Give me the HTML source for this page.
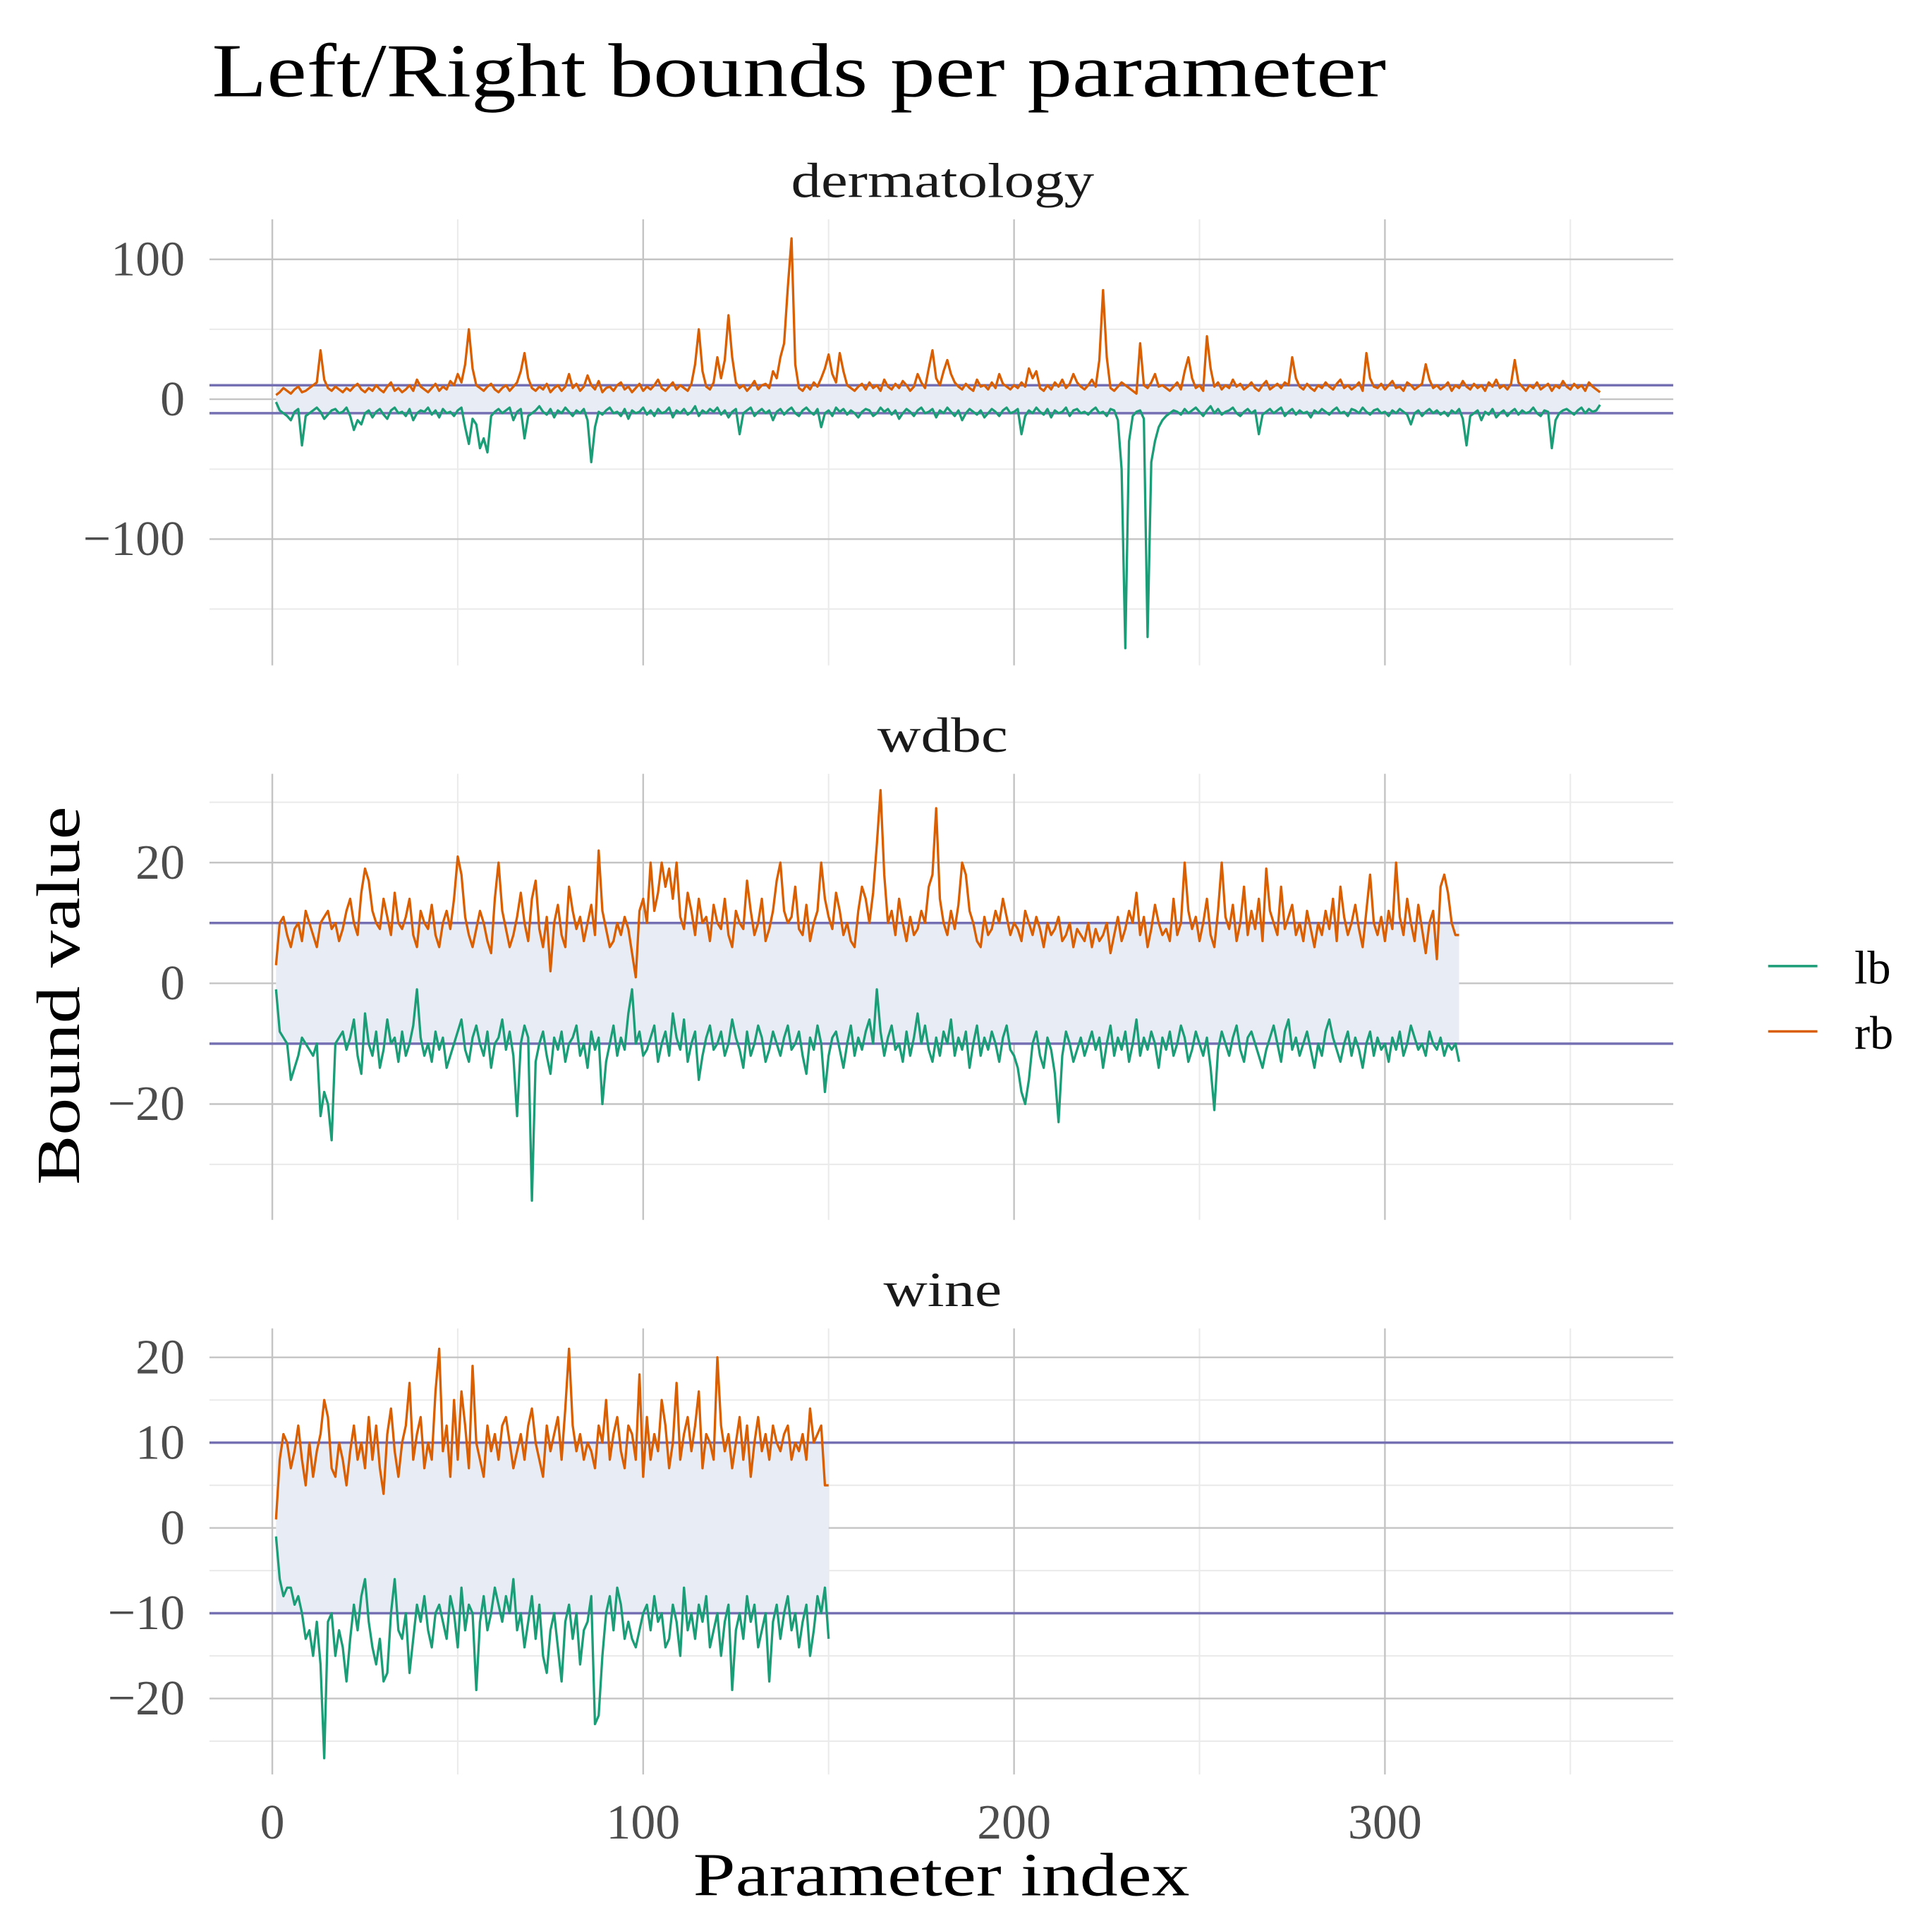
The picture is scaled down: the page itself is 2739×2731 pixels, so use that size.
<!DOCTYPE html>
<html><head><meta charset="utf-8">
<style>
html,body{margin:0;padding:0;background:#fff;}
svg{display:block;}
text{font-family:"Liberation Serif",serif;}
</style></head>
<body>
<svg id="chart" width="2739" height="2731" viewBox="0 0 1568 1563" preserveAspectRatio="none" xmlns="http://www.w3.org/2000/svg">
<rect width="1568" height="1563" fill="#fff"/>
<text x="172" y="78" font-size="62" textLength="953" lengthAdjust="spacingAndGlyphs" fill="#000">Left/Right bounds per parameter</text>
<text x="764" y="1538" font-size="50" text-anchor="middle" textLength="403" lengthAdjust="spacingAndGlyphs" fill="#000">Parameter index</text>
<text transform="translate(64,808) rotate(-90)" font-size="50" text-anchor="middle" textLength="307" lengthAdjust="spacingAndGlyphs" fill="#000">Bound value</text>
<g>
<line x1="1435" x2="1475" y1="784" y2="784" stroke="#1b9e77" stroke-width="2"/>
<text x="1505" y="798" font-size="38">lb</text>
<line x1="1435" x2="1475" y1="837" y2="837" stroke="#d95f02" stroke-width="2"/>
<text x="1505" y="851" font-size="38">rb</text>
</g>
<g id="panels"></g>
</svg>
<script>
const dermRb=[3,5,8,6,4,7,9,5,6,8,10,12,35,14,8,6,9,7,5,8,
6,9,11,7,5,8,6,10,7,5,9,12,6,8,5,7,10,6,14,9,
7,5,8,11,6,9,7,13,10,18,12,25,50,22,10,8,6,9,11,7,
5,8,10,6,9,12,20,33,15,8,6,9,7,11,5,8,10,6,9,18,
8,11,6,9,17,10,7,13,5,8,9,6,10,12,7,9,5,8,11,6,
9,7,10,14,8,6,9,12,7,10,8,6,11,25,50,20,9,7,12,30,
15,28,60,30,12,8,10,6,9,13,7,10,11,8,20,15,30,40,80,115,
25,8,6,10,7,12,9,15,22,32,18,12,33,20,10,8,6,9,11,7,
12,8,10,6,14,9,7,11,8,13,10,6,9,18,12,8,22,35,15,10,
20,28,18,12,9,7,11,8,6,14,9,10,7,12,8,18,11,9,7,10,
8,12,9,22,15,20,8,6,10,7,12,9,14,8,11,18,12,9,7,10,
14,9,28,78,30,8,6,9,12,10,8,6,4,40,10,8,12,18,9,10,
8,6,9,12,7,20,30,15,8,10,6,45,22,9,12,7,10,8,14,9,
11,7,9,12,8,6,10,13,7,9,11,8,12,10,30,15,9,7,11,8,
6,10,8,12,9,7,11,14,8,10,7,9,12,6,33,15,9,8,11,7,
10,13,8,9,6,12,10,7,9,11,25,14,8,10,7,9,12,6,10,8,
13,9,7,11,8,10,6,12,9,14,8,10,7,11,28,12,9,6,10,8,
12,7,9,11,6,10,8,13,9,7,11,8,10,6,12,9,7,5];
const dermLb=[-2,-8,-10,-12,-15,-9,-7,-33,-12,-10,-8,-6,-9,-14,-11,-8,-7,-10,-9,-6,
-12,-22,-15,-18,-10,-8,-13,-9,-7,-11,-14,-8,-6,-10,-9,-12,-7,-15,-10,-8,
-9,-6,-11,-8,-13,-7,-10,-9,-12,-8,-6,-20,-32,-14,-18,-35,-28,-38,-12,-9,
-7,-10,-8,-6,-15,-9,-7,-28,-12,-10,-8,-5,-9,-11,-7,-13,-8,-10,-6,-9,
-12,-8,-10,-7,-15,-45,-20,-9,-11,-8,-6,-10,-9,-12,-7,-14,-8,-10,-9,-6,
-11,-8,-12,-7,-10,-9,-6,-13,-8,-10,-7,-11,-9,-5,-12,-8,-10,-7,-9,-6,
-11,-8,-13,-9,-7,-25,-10,-8,-6,-12,-9,-7,-10,-8,-15,-9,-7,-11,-8,-6,
-10,-12,-8,-6,-9,-11,-7,-20,-10,-8,-12,-6,-9,-7,-11,-8,-10,-13,-9,-7,
-8,-12,-10,-6,-9,-7,-11,-8,-14,-10,-7,-9,-12,-8,-6,-10,-9,-7,-13,-8,
-10,-6,-9,-12,-8,-15,-10,-7,-9,-11,-8,-13,-10,-7,-9,-12,-8,-6,-10,-9,
-7,-25,-12,-8,-10,-6,-9,-11,-7,-13,-8,-10,-9,-6,-12,-8,-7,-10,-9,-11,
-8,-6,-10,-9,-12,-7,-8,-15,-50,-178,-30,-12,-9,-8,-14,-170,-45,-30,-20,-15,
-12,-10,-8,-9,-11,-7,-10,-8,-6,-9,-12,-8,-5,-10,-7,-11,-9,-8,-6,-10,
-12,-9,-7,-10,-8,-25,-11,-9,-7,-10,-8,-6,-12,-9,-7,-11,-8,-10,-9,-13,
-8,-10,-7,-9,-11,-8,-6,-10,-9,-12,-7,-8,-10,-6,-9,-11,-8,-7,-10,-9,
-12,-8,-10,-7,-9,-11,-18,-10,-8,-12,-9,-7,-10,-8,-11,-9,-12,-8,-10,-7,
-14,-33,-12,-10,-8,-15,-9,-11,-7,-13,-10,-8,-12,-9,-7,-11,-8,-10,-9,-6,
-10,-12,-8,-9,-35,-15,-10,-8,-7,-9,-11,-8,-6,-10,-7,-9,-8,-4];
const wdbcRb=[3,10,11,8,6,9,10,7,12,10,8,6,10,11,12,9,10,7,9,12,
14,10,8,15,19,17,12,10,9,14,11,8,15,10,9,11,14,8,6,12,
10,9,13,8,6,10,12,9,14,21,18,11,8,6,9,12,10,7,5,14,
20,12,9,6,8,11,15,10,7,14,17,9,6,11,2,10,13,8,6,16,
12,9,11,7,10,13,8,22,12,9,6,7,10,8,11,9,5,1,12,14,
10,20,12,15,20,16,19,14,20,11,9,15,12,8,14,10,11,7,13,10,
9,14,8,6,12,10,9,17,12,8,10,14,7,9,12,17,20,12,10,11,
16,9,8,13,7,10,12,20,14,11,9,15,12,8,10,7,6,12,16,14,
10,15,23,32,18,10,12,8,14,10,7,11,8,9,12,10,16,18,29,14,
10,8,12,9,13,20,18,12,10,7,6,11,8,9,12,10,14,11,8,10,
9,7,12,10,8,11,9,6,10,8,9,11,7,8,10,6,9,8,7,10,
6,9,7,8,10,5,8,11,7,9,12,10,15,8,11,6,9,13,10,8,
9,7,14,8,10,20,12,9,11,7,10,14,8,6,12,20,11,9,13,7,
10,16,8,12,9,14,7,19,12,10,8,16,9,11,13,8,10,7,12,9,
6,10,8,12,9,14,7,16,11,8,10,13,9,6,12,18,10,8,11,7,
12,9,20,11,8,14,10,7,13,9,5,10,12,4,16,18,15,10,8,8];
const wdbcLb=[-1,-8,-9,-10,-16,-14,-12,-9,-10,-11,-12,-10,-22,-18,-20,-26,-10,-9,-8,-11,
-9,-6,-12,-15,-5,-10,-12,-8,-14,-11,-6,-10,-9,-13,-8,-12,-10,-7,-1,-9,
-12,-10,-13,-8,-11,-9,-14,-12,-10,-8,-6,-11,-13,-9,-7,-10,-12,-8,-14,-10,
-9,-6,-11,-8,-12,-22,-10,-7,-9,-36,-13,-10,-8,-12,-15,-9,-11,-8,-13,-10,
-9,-7,-12,-10,-14,-8,-11,-9,-20,-13,-10,-7,-12,-9,-11,-5,-1,-10,-8,-12,
-11,-9,-7,-13,-10,-8,-12,-5,-9,-11,-6,-13,-10,-8,-16,-12,-9,-7,-11,-10,
-8,-12,-10,-6,-9,-11,-14,-8,-12,-10,-7,-9,-13,-11,-8,-10,-12,-9,-7,-11,
-10,-8,-12,-15,-9,-11,-7,-10,-18,-12,-9,-8,-11,-14,-10,-7,-12,-9,-11,-8,
-6,-10,-1,-8,-12,-9,-7,-11,-10,-13,-8,-12,-9,-5,-10,-7,-11,-13,-9,-12,
-8,-10,-6,-12,-9,-11,-8,-14,-10,-7,-12,-9,-11,-8,-10,-13,-9,-7,-11,-12,
-14,-18,-20,-16,-10,-8,-12,-14,-9,-11,-15,-23,-12,-8,-10,-13,-11,-9,-12,-10,
-8,-11,-9,-14,-10,-7,-12,-9,-11,-8,-13,-10,-6,-12,-9,-11,-8,-10,-14,-9,
-11,-8,-12,-10,-7,-9,-13,-11,-8,-10,-12,-9,-14,-21,-11,-8,-10,-12,-9,-7,
-11,-13,-9,-8,-10,-12,-14,-11,-9,-7,-10,-13,-8,-6,-11,-9,-12,-10,-8,-11,
-14,-10,-12,-8,-6,-9,-11,-13,-10,-8,-12,-9,-11,-14,-10,-8,-12,-9,-11,-10,
-13,-9,-11,-8,-12,-10,-7,-9,-11,-10,-12,-8,-10,-11,-9,-12,-10,-11,-10,-13];
const wineRb=[1,8,11,10,7,9,12,8,5,10,6,9,11,15,13,7,6,10,8,5,
9,12,8,10,7,13,8,12,7,4,11,14,9,6,10,12,17,8,11,13,
7,10,8,16,21,9,12,6,15,8,16,12,7,19,10,8,6,12,9,11,
8,12,13,10,7,9,11,8,12,14,10,8,6,12,9,11,13,8,14,21,
12,9,11,8,10,9,7,12,10,15,8,11,13,9,7,12,11,8,18,6,
13,8,11,9,15,12,7,10,17,8,11,13,9,12,16,7,11,10,8,20,
12,9,11,7,10,13,8,12,6,10,13,9,11,8,12,10,9,11,12,8,
10,9,11,8,14,10,11,12,5,5];
const wineLb=[-1,-6,-8,-7,-7,-9,-8,-10,-13,-12,-15,-11,-16,-27,-11,-10,-15,-12,-14,-18,
-13,-9,-12,-8,-6,-11,-14,-16,-13,-18,-17,-10,-6,-12,-13,-10,-17,-13,-9,-11,
-8,-12,-14,-10,-9,-11,-13,-8,-10,-14,-7,-12,-9,-10,-19,-11,-8,-12,-10,-7,
-9,-11,-8,-10,-6,-12,-10,-14,-11,-8,-13,-9,-15,-17,-12,-10,-14,-18,-11,-9,
-13,-10,-16,-12,-11,-8,-23,-22,-15,-10,-8,-12,-7,-9,-13,-11,-13,-14,-12,-10,
-9,-12,-8,-11,-10,-14,-13,-9,-11,-15,-7,-12,-10,-13,-9,-11,-8,-14,-12,-10,
-15,-11,-9,-19,-12,-10,-13,-8,-11,-9,-14,-12,-10,-18,-11,-9,-13,-10,-8,-12,
-10,-14,-11,-9,-15,-12,-8,-10,-7,-13];
const xTicks=[0,100,200,300];
const xMinor=[50,150,250,350];
const dermTicks=[-100,0,100], dermMinor=[-150,-50,50];
const wdbcTicks=[-20,0,20], wdbcMinor=[-30,-10,10,30];
const wineTicks=[-20,-10,0,10,20], wineMinor=[-25,-15,-5,5,15];
const panelNames=["dermatology","wdbc","wine"];

const NS="http://www.w3.org/2000/svg";
const PX0=170, PX1=1358;
function xs(v){return 221+v*3.01;}
function mk(tag,attrs,parent){const e=document.createElementNS(NS,tag);for(const k in attrs)e.setAttribute(k,attrs[k]);parent.appendChild(e);return e;}
const root=document.getElementById('panels');
const stripW={dermatology:246,wdbc:106,wine:96};
const panels=[
 {name:panelNames[0],top:178,bot:540,dom:[-190.3,128.6],ticks:dermTicks,minor:dermMinor,lb:dermLb,rb:dermRb},
 {name:panelNames[1],top:628,bot:990,dom:[-39.2,34.7],ticks:wdbcTicks,minor:wdbcMinor,lb:wdbcLb,rb:wdbcRb},
 {name:panelNames[2],top:1078,bot:1440,dom:[-28.9,23.4],ticks:wineTicks,minor:wineMinor,lb:wineLb,rb:wineRb}];
panels.forEach((p,pi)=>{
 const ys=v=>p.bot-(v-p.dom[0])/(p.dom[1]-p.dom[0])*(p.bot-p.top);
 const g=mk('g',{},root);
 
 
 const strip=mk('text',{x:765,y:p.top-18,'font-size':40,'text-anchor':'middle',fill:'#1a1a1a',textLength:stripW[p.name],lengthAdjust:'spacingAndGlyphs'},g);
 strip.textContent=p.name;
 
 
 p.minor.forEach(v=>{const l=mk('line',{x1:PX0,x2:PX1,y1:ys(v),y2:ys(v),stroke:'#ebebeb','stroke-width':1.2},g);
  
  });
 xMinor.forEach(v=>{const l=mk('line',{x1:xs(v),x2:xs(v),y1:p.top,y2:p.bot,stroke:'#ebebeb','stroke-width':1.2},g);
  
  });
 p.ticks.forEach(v=>{const l=mk('line',{x1:PX0,x2:PX1,y1:ys(v),y2:ys(v),stroke:'#c4c4c4','stroke-width':1.4},g);
  
  
  const t=mk('text',{x:150,y:ys(v)+13,'font-size':40,'text-anchor':'end',fill:'#4d4d4d'},g);
  t.textContent=(v<0?'\u2212'+(-v):String(v));
  
  });
 xTicks.forEach(v=>{const l=mk('line',{x1:xs(v),x2:xs(v),y1:p.top,y2:p.bot,stroke:'#c4c4c4','stroke-width':1.4},g);
  
  });
 const n=p.lb.length;
 const rib=mk('rect',{x:xs(1),y:ys(10),width:xs(n)-xs(1),height:ys(-10)-ys(10),fill:'#e8ecf4'},g);
 
 
 [10,-10].forEach(v=>{const l=mk('line',{x1:PX0,x2:PX1,y1:ys(v),y2:ys(v),stroke:'#7570b3','stroke-width':2},g);
  
  });
 [['lb','#1b9e77'],['rb','#d95f02']].forEach(([k,c])=>{
  const d=p[k].map((v,i)=>(i?'L':'M')+xs(i+1).toFixed(2)+','+ys(v).toFixed(2)).join('');
  const path=mk('path',{d:d,fill:'none',stroke:c,'stroke-width':1.9,'stroke-linejoin':'round'},g);
  
  
 });
});
xTicks.forEach(v=>{const t=mk('text',{x:xs(v),y:1492,'font-size':40,'text-anchor':'middle',fill:'#4d4d4d'},root);
 t.textContent=String(v);
 
 });
</script>
</body></html>
